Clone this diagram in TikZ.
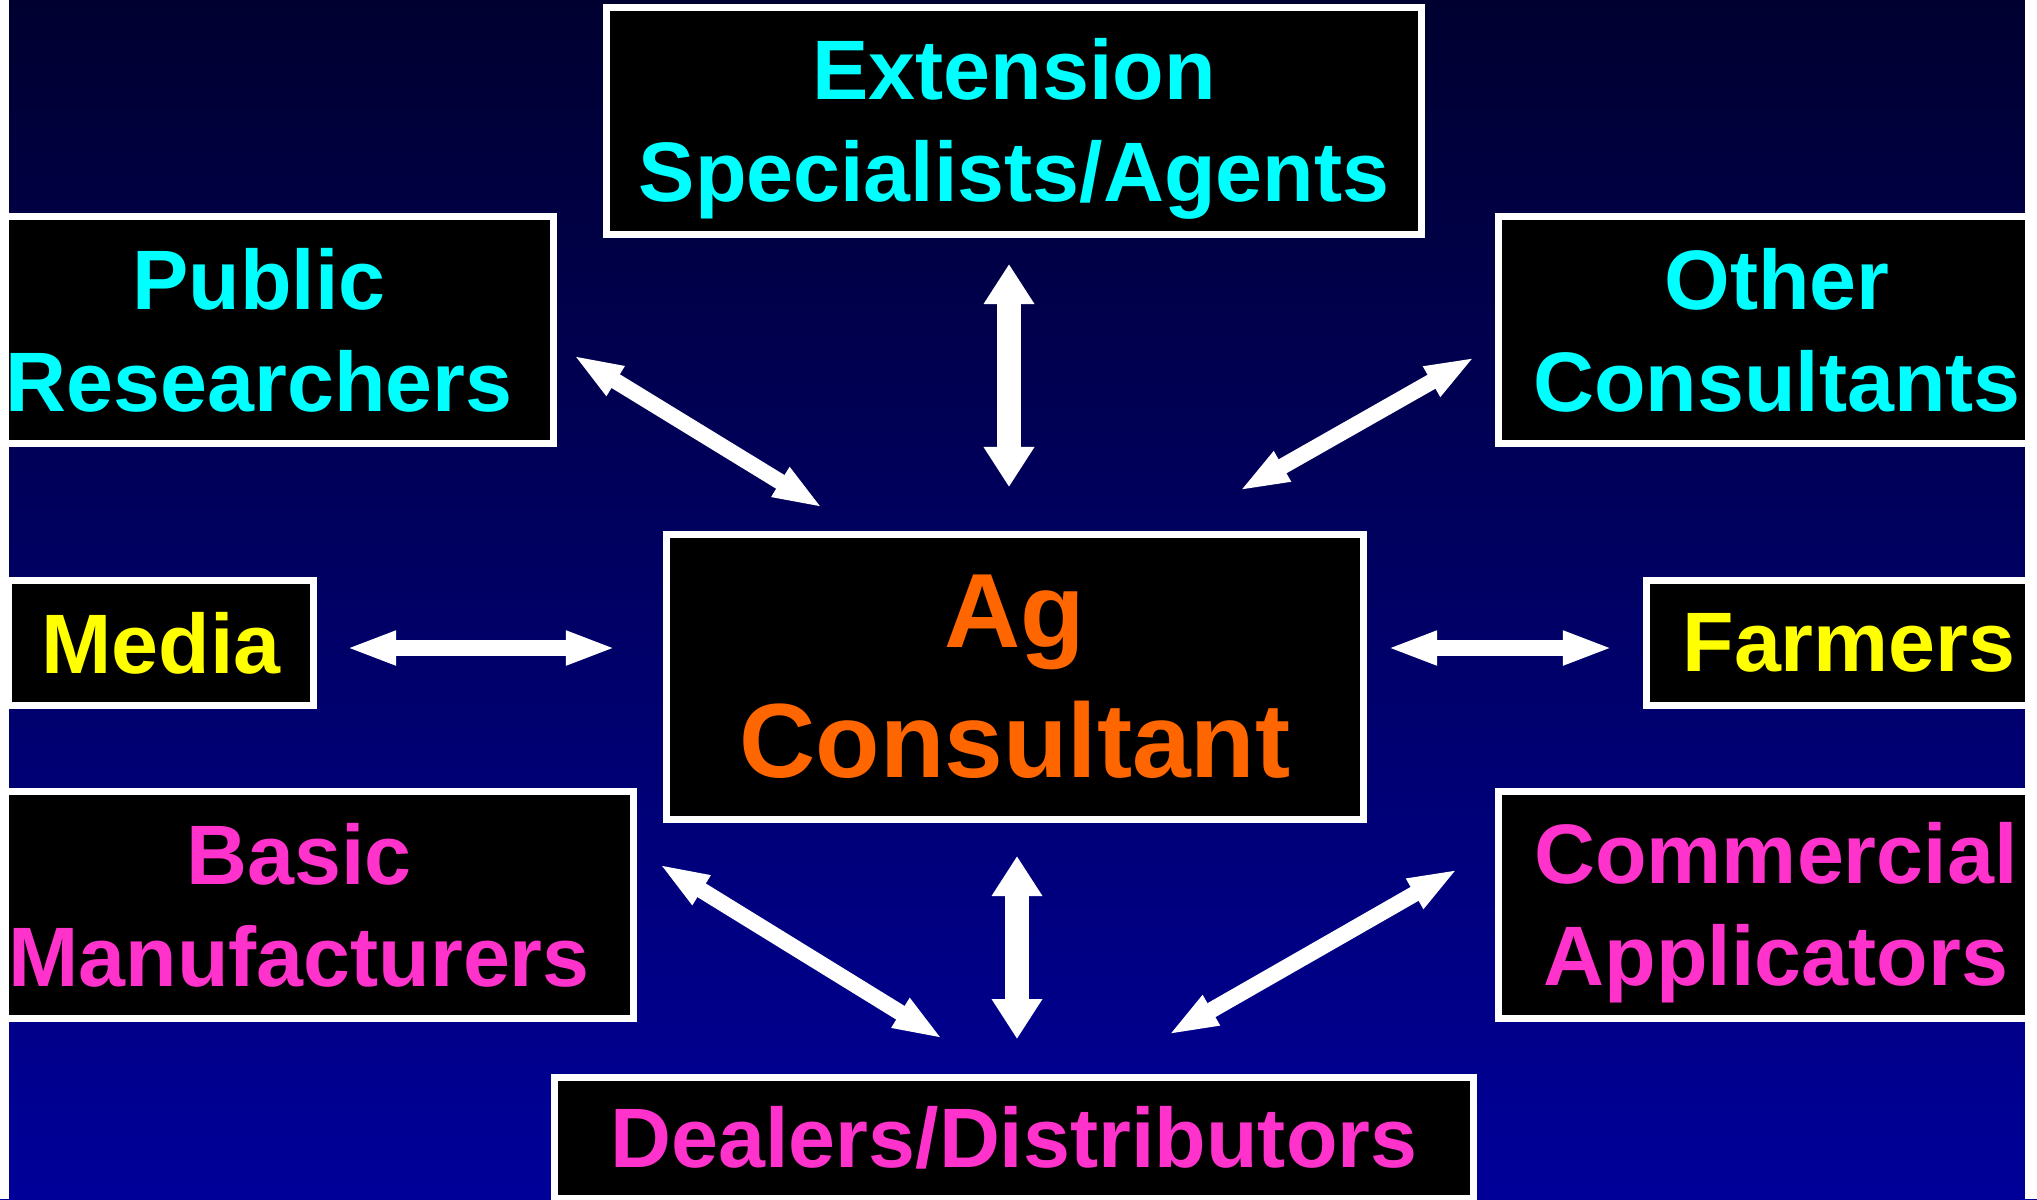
\documentclass[tikz,border=0pt]{standalone}
\usepackage{fontspec}
\setmainfont{Liberation Sans}
\usetikzlibrary{arrows.meta}
\definecolor{bgtop}{RGB}{0,0,48}
\definecolor{bgbot}{RGB}{0,0,153}
\definecolor{aqua}{RGB}{0,255,255}
\definecolor{lemon}{RGB}{255,255,0}
\definecolor{pink}{RGB}{255,51,204}
\definecolor{tangerine}{RGB}{255,102,0}
\begin{document}
\begin{tikzpicture}[x=0.01cm,y=-0.01cm]
\tikzstyle{bb}= [rectangle,draw=white,line width=0.07cm,fill=black,align=center,inner sep=0pt,
	font=\fontsize{24}{29}\selectfont\bfseries]
\tikzstyle{dep}= [white,line width=0.16cm,
	{Triangle[width=0.31cm,length=0.5cm]}-{Triangle[width=0.31cm,length=0.5cm]}]
\tikzstyle{vdep}= [white,line width=0.24cm,
	{Triangle[width=0.48cm,length=0.4cm]}-{Triangle[width=0.48cm,length=0.4cm]}]
\useasboundingbox (0,0) rectangle (2037,1199);
\shade[top color=bgtop,bottom color=bgbot] (0,0) rectangle (2037,1199);
\path
	(1014,121) node[bb,minimum width=8.14cm,minimum height=2.27cm,text=aqua] (ext) {\rule{0pt}{0.76cm}Extension\\Specialists/Agents}
	( 259,330) node[bb,minimum width=5.89cm,minimum height=2.27cm,text=aqua] (pub) {Public\\Researchers}
	(1777,330) node[bb,minimum width=5.57cm,minimum height=2.27cm,text=aqua] (oth) {Other\\Consultants}
	( 161,643) node[bb,minimum width=3.04cm,minimum height=1.24cm,text=lemon] (med) {Media}
	(1849,643) node[bb,minimum width=4.05cm,minimum height=1.24cm,text=lemon] (farm) {Farmers}
	(1015,677) node[bb,minimum width=6.97cm,minimum height=2.84cm,text=tangerine,
		font=\fontsize{30}{37}\selectfont\bfseries] (ag) {Ag\\Consultant}
	( 299,905) node[bb,minimum width=6.69cm,minimum height=2.27cm,text=pink] (bas) {Basic\\Manufacturers}
	(1776,905) node[bb,minimum width=5.55cm,minimum height=2.27cm,text=pink] (com) {\rule{0pt}{0.76cm}Commercial\\Applicators}
	(1014,1138) node[bb,minimum width=9.19cm,minimum height=1.21cm,text=pink] (deal) {Dealers/Distributors}
;
% arrow ends
\path
	( 573,355) coordinate (pub-a)  ( 823,508) coordinate (ag-pub)
	(1009,264) coordinate (ext-a)  (1009,487) coordinate (ag-ext)
	(1475,357) coordinate (oth-a)  (1239,491) coordinate (ag-oth)
	( 346,648) coordinate (med-a)  ( 616,648) coordinate (ag-med)
	(1613,648) coordinate (farm-a) (1387,648) coordinate (ag-farm)
	(1017,856) coordinate (ag-deal) (1017,1039) coordinate (deal-ag)
	( 659,864) coordinate (bas-a)  ( 943,1039) coordinate (deal-bas)
	(1458,869) coordinate (com-a)  (1168,1035) coordinate (deal-com)
;
\draw[dep] (pub-a) -- (ag-pub);
\draw[vdep] (ext-a) -- (ag-ext);
\draw[dep] (oth-a) -- (ag-oth);
\draw[dep] (med-a) -- (ag-med);
\draw[dep] (farm-a) -- (ag-farm);
\draw[vdep] (ag-deal) -- (deal-ag);
\draw[dep] (bas-a) -- (deal-bas);
\draw[dep] (com-a) -- (deal-com);
% white edges of the slide
\fill[white] (0,0) rectangle (9,1199);
\fill[white] (2025,0) rectangle (2037,1199);
\end{tikzpicture}
\end{document}
